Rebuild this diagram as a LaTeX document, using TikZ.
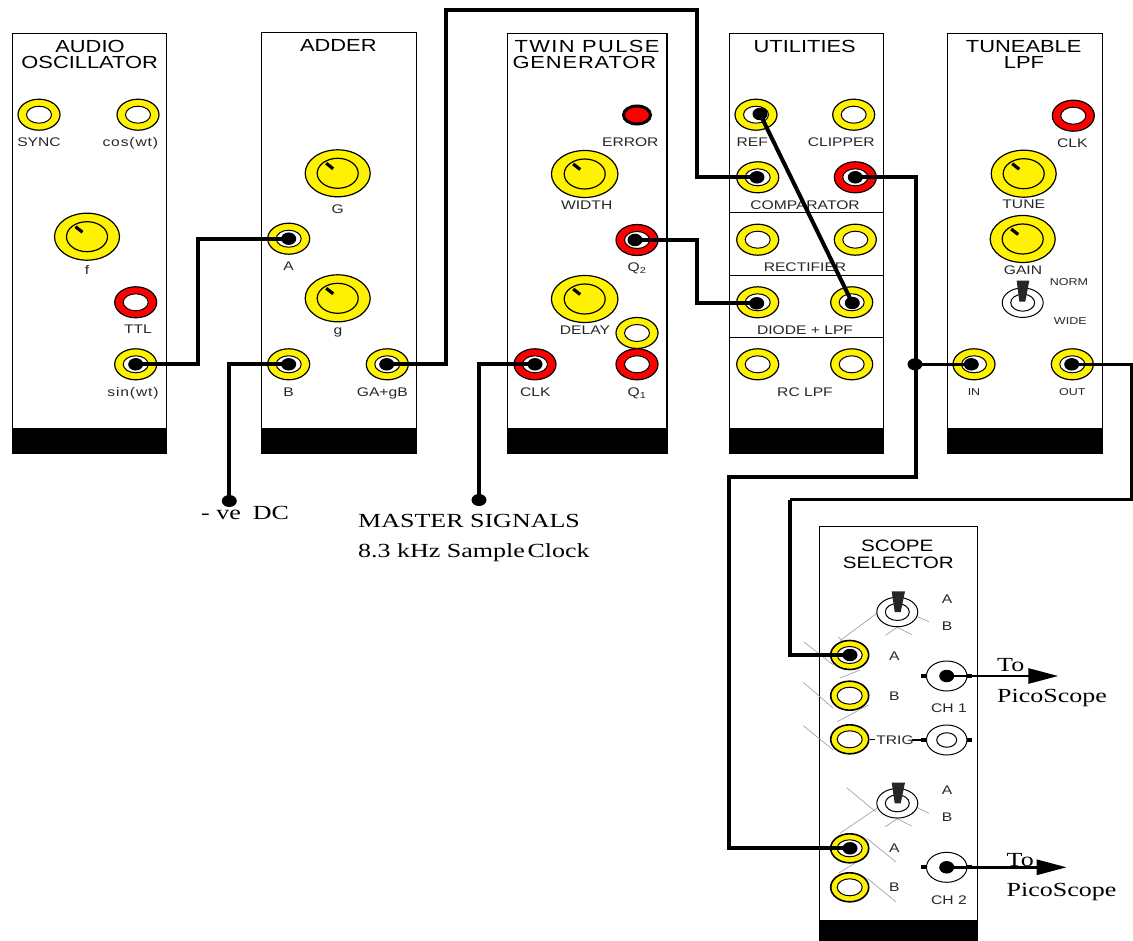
\documentclass[tikz,border=0pt]{standalone}
\usepackage{fontspec}
\usetikzlibrary{shapes.geometric,arrows.meta}
\newfontfamily\panelfont[FakeStretch=1.25]{Liberation Sans}
\newfontfamily\notefont[FakeStretch=1.3]{Liberation Serif}
\tikzset{
panel/.style={draw,line width=1.3pt,inner sep=0pt,minimum height=420pt,anchor=north west},
band/.style={fill=black,inner sep=0pt,minimum height=26pt,anchor=south},
divider/.style={line width=1.2pt},
title/.style={inner sep=0pt,text height=12.6pt,text depth=0pt,font=\panelfont\fontsize{17.5}{18}\selectfont},
lab/.style={inner sep=0pt,text height=9pt,text depth=0pt,text=black!85,font=\panelfont\fontsize{12.5}{14}\selectfont},
smalllab/.style={inner sep=0pt,text height=7.5pt,text depth=0pt,text=black!85,font=\panelfont\fontsize{10}{12}\selectfont},
note/.style={inner sep=0pt,anchor=base west,font=\notefont\fontsize{20}{22}\selectfont},
jack/.style={ellipse,draw,fill=yellow,line width=1.2pt,inner sep=0pt,minimum width=42pt,minimum height=31pt,
  path picture={\draw[fill=white,line width=1pt] (path picture bounding box.center) ellipse [x radius=12.5pt,y radius=8.5pt];}},
redjack/.style={jack,fill=red},
scopejack/.style={jack,line width=1.6pt,minimum width=38pt,minimum height=29pt},
plug/.style={ellipse,fill=black,inner sep=0pt,minimum width=15pt,minimum height=12.5pt},
knob/.style={ellipse,draw,fill=yellow,line width=1.2pt,inner sep=0pt,minimum width=65pt,minimum height=47pt,
  path picture={\draw[line width=1.2pt] (path picture bounding box.center) ellipse [x radius=20.5pt,y radius=15pt];}},
pointer/.style={line width=3.2pt},
led/.style={ellipse,draw=black,fill=red,line width=3pt,inner sep=0pt,minimum width=27pt,minimum height=18pt},
toggle/.style={ellipse,draw,fill=white,line width=1pt,inner sep=0pt,minimum width=41pt,minimum height=29.5pt,
  path picture={\draw[line width=1pt] (path picture bounding box.center) ellipse [x radius=12pt,y radius=8.5pt];}},
lever/.style={fill=black!85},
bnc/.style={ellipse,draw,fill=white,line width=1pt,inner sep=0pt,minimum width=40.5pt,minimum height=30pt},
bnchole/.style={ellipse,draw,fill=white,line width=1pt,inner sep=0pt,minimum width=20pt,minimum height=14.5pt},
stub/.style={line width=4pt},
thinlink/.style={line width=1.6pt},
guide/.style={line width=.6pt,draw=black!40},
wire/.style={line width=4pt},
thinwire/.style={line width=3pt},
dot/.style={ellipse,fill=black,inner sep=0pt,minimum width=15pt,minimum height=12pt},
outarrow/.style={line width=2.8pt,-{Triangle[length=30pt,width=15pt]}}
}
\begin{document}
\begin{tikzpicture}[x=1pt,y=-1pt]
\useasboundingbox (0,0) rectangle (1133,941);
% audio oscillator
\node[panel,minimum width=154pt] (osc) at (12,33) {};
\node[band,minimum width=155pt] (oscband) at (osc.south) {};
\node[title] (osct1) at (90,46) {AUDIO};
\node[title] (osct2) at (89.7,62.3) {OSCILLATOR};
\node[jack] (sync) at (39,114.7) {};
\node[jack] (coswt) at (138,114.7) {};
\node[lab] (synclab) at (39,142.3) {SYNC};
\node[lab] (coswtlab) at (130.3,142.3) {\addfontfeature{LetterSpace=7}cos(wt)};
\node[knob] (knobf) at (87,236.7) {};
\draw[pointer] (knobf.center) ++(-11.5,-10) -- ++(7,5.5);
\node[lab] (flab) at (87,270) {f};
\node[redjack] (ttl) at (135.7,302.3) {};
\node[lab] (ttllab) at (138,329.3) {TTL};
\node[jack] (sinwt) at (135.7,364.3) {};
\node[plug] (sinwtplug) at (135.7,364.3) {};
\node[lab] (sinwtlab) at (133,391.7) {\addfontfeature{LetterSpace=7}sin(wt)};
% adder
\node[panel,minimum width=155pt,minimum height=421.3pt] (adder) at (261,31.7) {};
\node[band,minimum width=156pt] (adderband) at (adder.south) {};
\node[title] (addert) at (338.3,45) {ADDER};
\node[knob] (knobG) at (337.7,173.3) {};
\draw[pointer] (knobG.center) ++(-11.5,-10) -- ++(7,5.5);
\node[lab] (Glab) at (337.7,208.7) {G};
\node[jack] (adda) at (288.7,238.7) {};
\node[plug] (addaplug) at (288.7,238.7) {};
\node[lab] (addalab) at (288.7,266.3) {A};
\node[knob] (knobg) at (337.7,298.3) {};
\draw[pointer] (knobg.center) ++(-11.5,-10) -- ++(7,5.5);
\node[lab] (glab) at (338,330) {g};
\node[jack] (addb) at (288.7,364.3) {};
\node[plug] (addbplug) at (288.7,364.3) {};
\node[lab] (addblab) at (288.7,391.7) {B};
\node[jack] (addout) at (387.3,364.3) {};
\node[plug] (addoutplug) at (386.7,364.3) {};
\node[lab] (addoutlab) at (382.3,391.7) {GA+gB};
% twin pulse generator
\node[panel,minimum width=159.5pt] (twin) at (506.7,33) {};
\node[band,minimum width=160.5pt] (twinband) at (twin.south) {};
\node[title] (twint1) at (587,46) {\addfontfeature{LetterSpace=8}TWIN PULSE};
\node[title] (twint2) at (584.3,62.3) {\addfontfeature{LetterSpace=5}GENERATOR};
\node[led] (error) at (637,115) {};
\node[lab] (errorlab) at (630.3,142.3) {ERROR};
\node[knob,minimum width=66.5pt] (knobw) at (584.7,174) {};
\draw[pointer] (knobw.center) ++(-11.5,-10) -- ++(7,5.5);
\node[lab] (widthlab) at (586.7,204.7) {WIDTH};
\node[redjack] (qtwo) at (637,240) {};
\node[plug] (qtwoplug) at (635,240) {};
\node[lab] (qtwolab) at (637,267.3) {Q\textsubscript{2}};
\node[knob,minimum width=66.5pt] (knobd) at (584.7,299) {};
\draw[pointer] (knobd.center) ++(-11.5,-10) -- ++(7,5.5);
\node[lab] (delaylab) at (585,329.7) {DELAY};
\node[jack] (extra) at (637,333) {};
\node[redjack] (qone) at (637,364.3) {};
\node[lab] (qonelab) at (637,391.7) {Q\textsubscript{1}};
\node[redjack] (clk) at (535,364.3) {};
\node[plug] (clkplug) at (535,364.3) {};
\node[lab] (clklab) at (535.3,391.7) {CLK};
% utilities
\node[panel,minimum width=153.7pt] (util) at (729,33) {};
\node[band,minimum width=154.7pt] (utilband) at (util.south) {};
\node[title] (utilt) at (804.7,46) {UTILITIES};
\draw[divider] (util.west |- 0,212.7) -- (util.east |- 0,212.7);
\draw[divider] (util.west |- 0,275.7) -- (util.east |- 0,275.7);
\draw[divider] (util.west |- 0,337.7) -- (util.east |- 0,337.7);
\node[jack] (ref) at (756,114.7) {};
\node[plug] (refplug) at (760,114) {};
\node[lab] (reflab) at (752.3,142.3) {REF};
\node[jack] (clipper) at (853.7,114.7) {};
\node[lab] (clipperlab) at (841.3,142.3) {CLIPPER};
\node[jack] (compin) at (757.7,177.3) {};
\node[plug] (compinplug) at (757,177.3) {};
\node[redjack] (compout) at (855.3,177.3) {};
\node[plug] (compoutplug) at (855.3,177.3) {};
\node[lab] (complab) at (805,204.7) {COMPARATOR};
\node[jack] (rectin) at (757.7,239.7) {};
\node[jack] (rectout) at (855.3,239.7) {};
\node[lab] (rectlab) at (805,267) {RECTIFIER};
\node[jack] (diodein) at (757.7,302.3) {};
\node[plug] (diodeinplug) at (756.7,303.3) {};
\node[jack] (diodeout) at (851.7,302.3) {};
\node[plug] (diodeoutplug) at (852.3,303) {};
\node[lab] (diodelab) at (805,329.7) {DIODE + LPF};
\node[jack] (rcin) at (757.7,364.3) {};
\node[jack] (rcout) at (851.7,364.3) {};
\node[lab] (rclab) at (805,391.7) {RC LPF};
% tuneable lpf
\node[panel,minimum width=155pt] (tune) at (946.7,33) {};
\node[band,minimum width=156pt] (tuneband) at (tune.south) {};
\node[title] (tunet1) at (1023.7,46) {TUNEABLE};
\node[title] (tunet2) at (1024,62.3) {LPF};
\node[redjack] (tuneclk) at (1073.3,115.7) {};
\node[lab] (tuneclklab) at (1072.3,143) {CLK};
\node[knob] (knobt) at (1023.7,173.7) {};
\draw[pointer] (knobt.center) ++(-11.5,-10) -- ++(7,5.5);
\node[lab] (tunelab) at (1023.7,204.3) {TUNE};
\node[knob] (knobn) at (1022.7,239) {};
\draw[pointer] (knobn.center) ++(-11.5,-10) -- ++(7,5.5);
\node[lab] (gainlab) at (1023,270) {GAIN};
\node[toggle] (tglnorm) at (1022.7,302.7) {};
\fill[lever] (1016.7,280.7) -- (1029.3,280.7) -- (1025.3,301.7) -- (1019.3,301.7) -- cycle;
\node[smalllab] (normlab) at (1069,281.3) {NORM};
\node[smalllab] (widelab) at (1070.3,320.7) {WIDE};
\node[jack] (tunein) at (974,364.3) {};
\node[plug] (tuneinplug) at (971.3,364.3) {};
\node[smalllab] (tuneinlab) at (974,392) {IN};
\node[jack] (tuneout) at (1072.3,364.3) {};
\node[plug] (tuneoutplug) at (1071.7,364.3) {};
\node[smalllab] (tuneoutlab) at (1072.3,392) {OUT};
% scope selector
\node[panel,minimum width=158pt,minimum height=415pt] (scope) at (819,525.7) {};
\node[band,minimum width=159pt,minimum height=22pt] (scopeband) at (scope.south) {};
\node[title,font=\panelfont\fontsize{16.5}{18}\selectfont] (scopet1) at (897.3,545) {SCOPE};
\node[title,font=\panelfont\fontsize{16.5}{18}\selectfont] (scopet2) at (898.3,561.7) {SELECTOR};
\draw[guide] (876.7,613.3) -- (840,640.7);
\draw[guide] (911.7,614.3) -- (929,621.7);
\draw[guide] (885.3,635.3) -- (897.3,627.3) -- (911.7,634.7);
\draw[guide] (804,642) -- (833.3,665);
\draw[guide] (838.3,637.3) -- (858,652);
\draw[guide] (803.3,682.3) -- (833.3,708.3);
\draw[guide] (840,678) -- (860,670);
\draw[guide] (837.3,721.7) -- (868.3,705);
\draw[guide] (803.3,725.7) -- (833.3,750);
\draw[guide] (846.7,787.7) -- (876,812);
\draw[guide] (876.7,808.3) -- (840,833.3);
\draw[guide] (911.7,805) -- (929,813.3);
\draw[guide] (885.3,826.7) -- (897.3,818.7) -- (911.7,826);
\draw[guide] (866.7,838.3) -- (895.7,861.7);
\draw[guide] (838.3,873.3) -- (860,860);
\draw[guide] (867.3,878.3) -- (895.7,901.7);
\node[toggle] (tgla) at (897.3,612) {};
\fill[lever] (891.7,591.3) -- (905,591.3) -- (900.7,612) -- (894.7,612) -- cycle;
\node[lab] (tglaA) at (947,599) {A};
\node[lab] (tglaB) at (947,626.3) {B};
\node[scopejack] (cha) at (849.7,655) {};
\node[plug] (chaplug) at (850,655) {};
\node[lab] (chalab) at (894.3,656.3) {A};
\node[scopejack] (chb) at (849.7,695.7) {};
\node[lab] (chblab) at (894.3,695.7) {B};
\node[bnc] (chone) at (946.7,676) {};
\node[plug] (choneplug) at (946.7,676) {};
\draw[stub] (chone.west) -- ++(-5,0);
\draw[stub] (chone.east) -- ++(5,0);
\node[lab] (chonelab) at (949,708.3) {CH 1};
\node[scopejack] (trig) at (849.7,739.3) {};
\node[lab] (triglab) at (895,740) {TRIG};
\node[bnc] (trigbnc) at (946.7,740) {};
\node[bnchole] (trighole) at (946.7,740) {};
\draw[stub] (trigbnc.west) -- ++(-5,0);
\draw[stub] (trigbnc.east) -- ++(5,0);
\draw[thinlink] (trig.east) -- ++(5.5,0);
\draw[thinlink] (trigbnc.west) -- ++(-14,0);
\node[toggle] (tglb) at (897.3,803.3) {};
\fill[lever] (891.7,782.7) -- (905,782.7) -- (900.7,803.3) -- (894.7,803.3) -- cycle;
\node[lab] (tglbA) at (947,790) {A};
\node[lab] (tglbB) at (947,817.3) {B};
\node[scopejack] (cta) at (849.7,848.3) {};
\node[plug] (ctaplug) at (850,848.3) {};
\node[lab] (ctalab) at (894.3,848.3) {A};
\node[scopejack] (ctb) at (849.7,887.3) {};
\node[lab] (ctblab) at (894.3,887.3) {B};
\node[bnc] (chtwo) at (946.7,867.3) {};
\node[plug] (chtwoplug) at (946.7,867.3) {};
\draw[stub] (chtwo.west) -- ++(-5,0);
\draw[stub] (chtwo.east) -- ++(5,0);
\node[lab] (chtwolab) at (949,900) {CH 2};
% free ends and notes
\node[dot] (dcdot) at (229.3,501) {};
\node[note] (dclab) at (201,519) {- ve\hspace{-1pt}\ \ DC};
\node[dot] (clkdot) at (479,500) {};
\node[note] (masterlab) at (358,527.5) {MASTER SIGNALS};
\node[note] (samplelab) at (358,557.5) {8.3 kHz Sample\hspace{-4pt} Clock};
\node[dot] (joindot) at (915,364.3) {};
\coordinate (bendsin) at (197.5,238.7);
\coordinate (bendadd) at (445.5,10);
\coordinate (bendtop) at (697,10);
\coordinate (bendq) at (697.3,303.3);
\coordinate (bendcomp) at (915.5,477);
\coordinate (bendlow) at (728.5,477);
\coordinate (bendout) at (1131.3,499.5);
\coordinate (bendscope) at (790,499.5);
\coordinate (chtip) at (1058.3,676);
\coordinate (cttip) at (1066.7,867.3);
% patch leads
\draw[wire] (sinwtplug.center) -| (bendsin) |- (addaplug.center);
\draw[wire] (dcdot.center) |- (addbplug.center);
\draw[wire] (addoutplug.center) -| (bendadd) -- (bendtop) |- (compinplug.center);
\draw[wire] (clkdot.center) |- (clkplug.center);
\draw[wire] (qtwoplug.center) -| (bendq) -- (diodeinplug.center);
\draw[wire] (refplug.center) -- (diodeoutplug.center);
\draw[wire] (compoutplug.center) -| (bendcomp) -- (bendlow) |- (ctaplug.center);
\draw[thinwire] (joindot.center) -- (tuneinplug.center);
\draw[thinwire] (tuneoutplug.center) -| (bendout) -- (bendscope);
\draw[wire] (bendscope) |- (chaplug.center);
% to the scope
\draw[outarrow] (choneplug.center) -- (chtip);
\draw[outarrow] (chtwoplug.center) -- (cttip);
\node[note] (toone) at (997,671) {To};
\node[note] (picoone) at (997,702) {PicoScope};
\node[note] (totwo) at (1006.5,866) {To};
\node[note] (picotwo) at (1006.5,896) {PicoScope};
\end{tikzpicture}
\end{document}
